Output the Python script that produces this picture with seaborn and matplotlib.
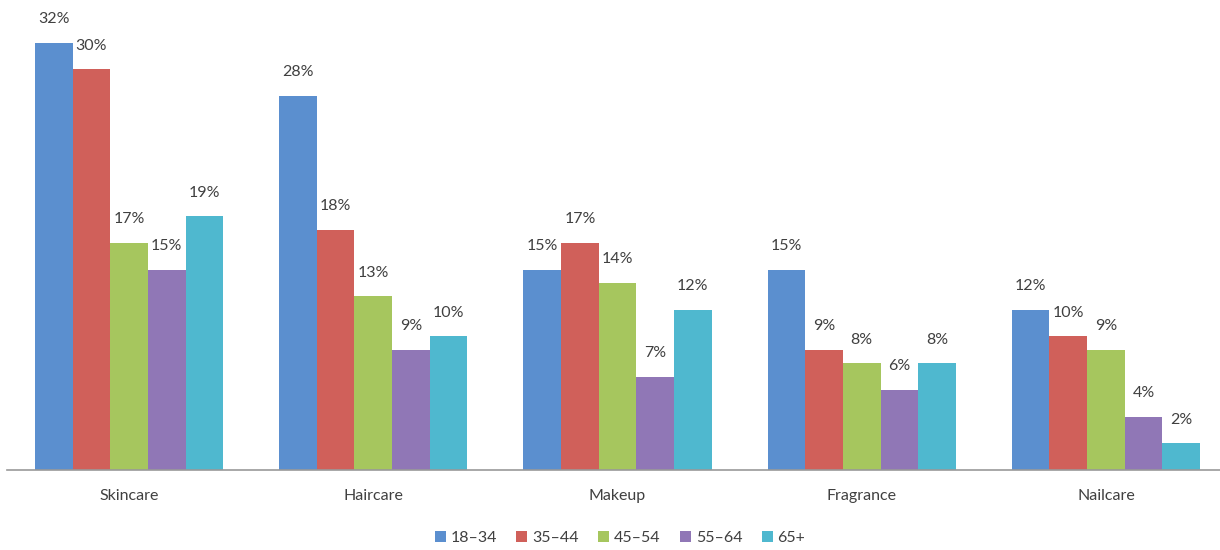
import matplotlib
matplotlib.use("Agg")
import matplotlib.pyplot as plt
import seaborn as sns
import pandas as pd

categories = ["Skincare", "Haircare", "Makeup", "Fragrance", "Nailcare"]
age_groups = ["18\u201334", "35\u201344", "45\u201354", "55\u201364", "65+"]
share_18_34 = [32, 28, 15, 15, 12]
share_35_44 = [30, 18, 17, 9, 10]
share_45_54 = [17, 13, 14, 8, 9]
share_55_64 = [15, 9, 7, 6, 4]
share_65_plus = [19, 10, 12, 8, 2]

series = [share_18_34, share_35_44, share_45_54, share_55_64, share_65_plus]
rows = []
for group, values in zip(age_groups, series):
    for cat, v in zip(categories, values):
        rows.append({"category": cat, "age": group, "share": v})
df = pd.DataFrame(rows)

palette = ["#5B8FCF", "#D0605A", "#A6C65E", "#9077B6", "#4FB8CF"]

sns.set_theme(style="white")
plt.rcParams["font.family"] = ["Lato", "DejaVu Sans"]
text_color = "#404040"

fig = plt.figure(figsize=(12.2, 5.5), dpi=100)
ax = fig.add_axes([7 / 1220, 80 / 550, 1221 / 1220, 470 / 550])

sns.barplot(data=df, x="category", y="share", hue="age", order=categories,
            hue_order=age_groups, palette=palette, width=0.77, gap=0,
            saturation=1, linewidth=0, ax=ax, legend=True)

for container in ax.containers:
    ax.bar_label(container, labels=[f"{int(round(b.get_height()))}%" for b in container],
                 padding=12, fontsize=11.5, color=text_color)

ax.set_ylim(0, 35.2)
ax.set_xlim(-0.5, 4.5)
ax.set_xlabel("")
ax.set_ylabel("")
ax.set_yticks([])
ax.tick_params(axis="x", length=0, pad=14, labelsize=11.5, labelcolor=text_color)
for side in ["top", "right", "left"]:
    ax.spines[side].set_visible(False)
ax.spines["bottom"].set_color("#999999")
ax.spines["bottom"].set_linewidth(1.2)

handles, labels = ax.get_legend_handles_labels()
ax.legend_.remove()
fig.legend(handles, labels, loc="center", bbox_to_anchor=(620 / 1220, 1 - 538 / 550),
           ncol=5, frameon=False, fontsize=11.5, handlelength=0.7, handleheight=0.7,
           handletextpad=0.3, columnspacing=1.2, labelcolor=text_color)

fig.savefig("out.png", dpi=100, facecolor="white")
